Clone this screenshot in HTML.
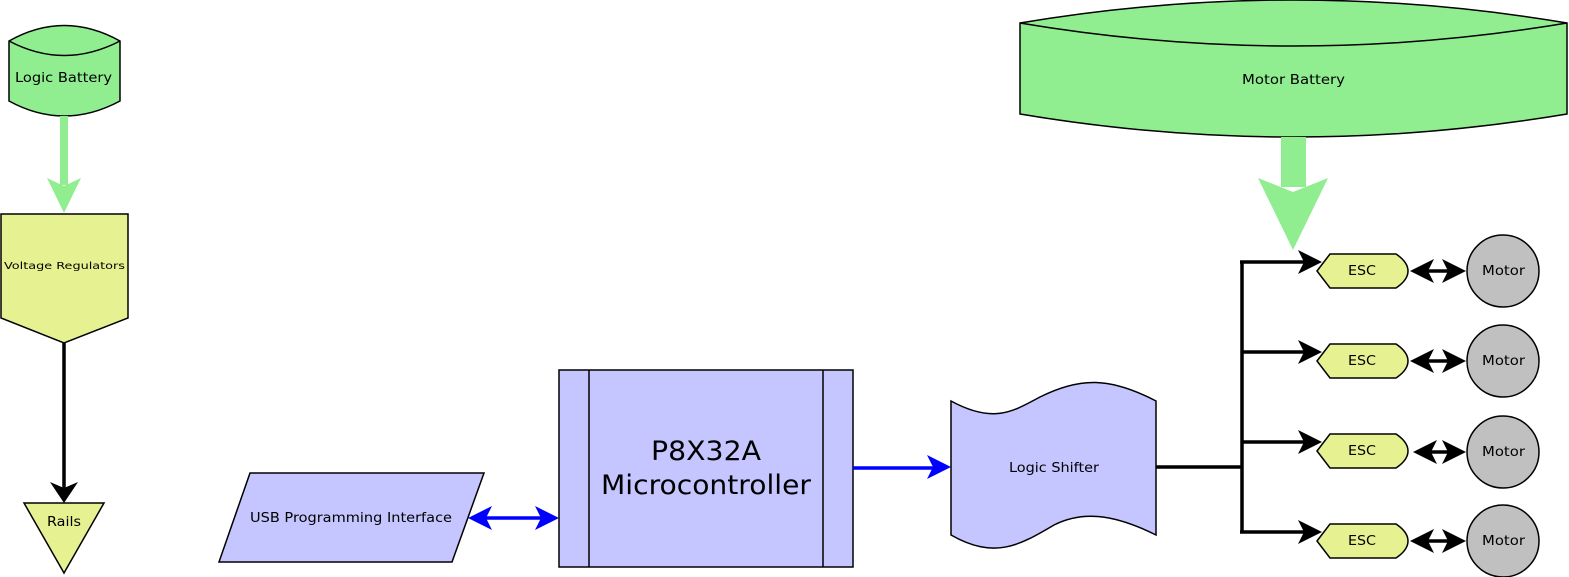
<!DOCTYPE html>
<html><head><style>body{margin:0;background:#fff}svg{display:block}text{font-family:"DejaVu Sans","Liberation Sans",sans-serif}</style></head><body>
<svg width="1569" height="577" viewBox="0 0 1569 577" xmlns="http://www.w3.org/2000/svg">
<!-- Logic battery -->
<path d="M9,41 Q64,10 120,41 L120,101 Q64,131 9,101 Z" fill="#90EE90" stroke="#000" stroke-width="1.5"/>
<path d="M9,41 Q64,70 120,41" fill="none" stroke="#000" stroke-width="1.5"/>
<text x="15" y="82" font-size="13" textLength="97" lengthAdjust="spacingAndGlyphs">Logic Battery</text>
<line x1="64" y1="116" x2="64" y2="185" stroke="#90EE90" stroke-width="8"/>
<path d="M47,178 L64,213 L81,178 L64,186 Z" fill="#90EE90"/>
<!-- Voltage regulators -->
<path d="M1,214 L128,214 L128,318 L64,343 L1,318 Z" fill="#E6F291" stroke="#000" stroke-width="1.5"/>
<text x="4" y="269" font-size="10" textLength="121" lengthAdjust="spacingAndGlyphs">Voltage Regulators</text>
<line x1="64" y1="343" x2="64" y2="490" stroke="#000" stroke-width="3.5"/>
<path d="M50,482 L64,503 L78,482 L64,488 Z" fill="#000"/>
<!-- Rails -->
<path d="M24,503 L104,503 L64,573 Z" fill="#E6F291" stroke="#000" stroke-width="1.5"/>
<text x="47" y="526" font-size="13" textLength="34" lengthAdjust="spacingAndGlyphs">Rails</text>
<!-- USB -->
<path d="M219,562 L250,473 L484,473 L452,562 Z" fill="#C5C5FF" stroke="#000" stroke-width="1.5"/>
<text x="250" y="522" font-size="13" textLength="202" lengthAdjust="spacingAndGlyphs">USB Programming Interface</text>
<line x1="480" y1="518" x2="548" y2="518" stroke="#0000FF" stroke-width="3.5"/>
<path d="M468,518 L492,506 L486,518 L492,530 Z" fill="#0000FF"/>
<path d="M559,518 L535,506 L541,518 L535,530 Z" fill="#0000FF"/>
<!-- P8X32A -->
<rect x="559" y="370" width="294" height="197" fill="#C5C5FF" stroke="#000" stroke-width="1.5"/>
<line x1="589" y1="370" x2="589" y2="567" stroke="#000" stroke-width="1.5"/>
<line x1="823" y1="370" x2="823" y2="567" stroke="#000" stroke-width="1.5"/>
<text x="651" y="460" font-size="27" textLength="110" lengthAdjust="spacingAndGlyphs">P8X32A</text>
<text x="601" y="494" font-size="27" textLength="210" lengthAdjust="spacingAndGlyphs">Microcontroller</text>
<line x1="853" y1="468" x2="938" y2="468" stroke="#0000FF" stroke-width="3.5"/>
<path d="M951,467 L927,455 L933,467 L927,479 Z" fill="#0000FF"/>
<!-- Logic shifter -->
<path d="M951,401 C995,425 1015,410 1040,397 C1080,377 1110,377 1156,401 L1156,535 C1110,512 1080,512 1054,525 C1020,545 995,560 951,535 Z" fill="#C5C5FF" stroke="#000" stroke-width="1.5"/>
<text x="1009" y="472" font-size="13" textLength="90" lengthAdjust="spacingAndGlyphs">Logic Shifter</text>
<!-- Distribution -->
<path d="M1156,467 L1242,467 M1242,262 L1242,532 M1240,262 L1305,262 M1242,352 L1305,352 M1242,442 L1305,442 M1240,532 L1305,532" stroke="#000" stroke-width="3.5" fill="none"/>
<g fill="#000">
<path d="M1322,262 L1298,250 L1304,262 L1298,274 Z"/>
<path d="M1322,352 L1298,340 L1304,352 L1298,364 Z"/>
<path d="M1322,442 L1298,430 L1304,442 L1298,454 Z"/>
<path d="M1322,532 L1298,520 L1304,532 L1298,544 Z"/>
</g>
<g stroke="#000" stroke-width="1.5">
<path d="M1317,271 L1330,254 L1396,254 Q1408,262 1408,271 Q1408,280 1396,288 L1330,288 Z" fill="#E6F291"/>
<path d="M1317,361 L1330,344 L1396,344 Q1408,352 1408,361 Q1408,370 1396,378 L1330,378 Z" fill="#E6F291"/>
<path d="M1317,451 L1330,434 L1396,434 Q1408,442 1408,451 Q1408,460 1396,468 L1330,468 Z" fill="#E6F291"/>
<path d="M1317,541 L1330,524 L1396,524 Q1408,532 1408,541 Q1408,550 1396,558 L1330,558 Z" fill="#E6F291"/>
<circle cx="1503" cy="271" r="36" fill="#C0C0C0"/>
<circle cx="1503" cy="361" r="36" fill="#C0C0C0"/>
<circle cx="1503" cy="452" r="36" fill="#C0C0C0"/>
<circle cx="1503" cy="541" r="36" fill="#C0C0C0"/>
</g>
<g font-size="13" lengthAdjust="spacingAndGlyphs">
<text x="1348" y="275" textLength="28" lengthAdjust="spacingAndGlyphs">ESC</text><text x="1348" y="365" textLength="28" lengthAdjust="spacingAndGlyphs">ESC</text><text x="1348" y="455" textLength="28" lengthAdjust="spacingAndGlyphs">ESC</text><text x="1348" y="545" textLength="28" lengthAdjust="spacingAndGlyphs">ESC</text>
<text x="1482" y="275" textLength="43" lengthAdjust="spacingAndGlyphs">Motor</text><text x="1482" y="365" textLength="43" lengthAdjust="spacingAndGlyphs">Motor</text><text x="1482" y="456" textLength="43" lengthAdjust="spacingAndGlyphs">Motor</text><text x="1482" y="545" textLength="43" lengthAdjust="spacingAndGlyphs">Motor</text>
</g>
<g stroke="#000" stroke-width="3.5">
<line x1="1420" y1="271" x2="1456" y2="271"/><line x1="1420" y1="361" x2="1456" y2="361"/><line x1="1424" y1="452" x2="1456" y2="452"/><line x1="1420" y1="541" x2="1456" y2="541"/>
</g>
<g fill="#000">
<path d="M1410,271 L1434,259 L1428,271 L1434,283 Z"/><path d="M1466,271 L1442,259 L1448,271 L1442,283 Z"/>
<path d="M1410,361 L1434,349 L1428,361 L1434,373 Z"/><path d="M1466,361 L1442,349 L1448,361 L1442,373 Z"/>
<path d="M1413,452 L1437,440 L1431,452 L1437,464 Z"/><path d="M1466,452 L1442,440 L1448,452 L1442,464 Z"/>
<path d="M1410,541 L1434,529 L1428,541 L1434,553 Z"/><path d="M1466,541 L1442,529 L1448,541 L1442,553 Z"/>
</g>
<!-- Motor battery -->
<path d="M1020,23 Q1293,-23 1567,23 L1567,114 Q1293,160 1020,114 Z" fill="#90EE90" stroke="#000" stroke-width="1.5"/>
<path d="M1020,23 Q1293,69 1567,23" fill="none" stroke="#000" stroke-width="1.5"/>
<text x="1242" y="84" font-size="13" textLength="103" lengthAdjust="spacingAndGlyphs">Motor Battery</text>
<rect x="1281" y="137" width="25" height="50" fill="#90EE90"/>
<path d="M1258,178 L1293,250 L1328,178 L1293,192 Z" fill="#90EE90"/>
</svg>
</body></html>
